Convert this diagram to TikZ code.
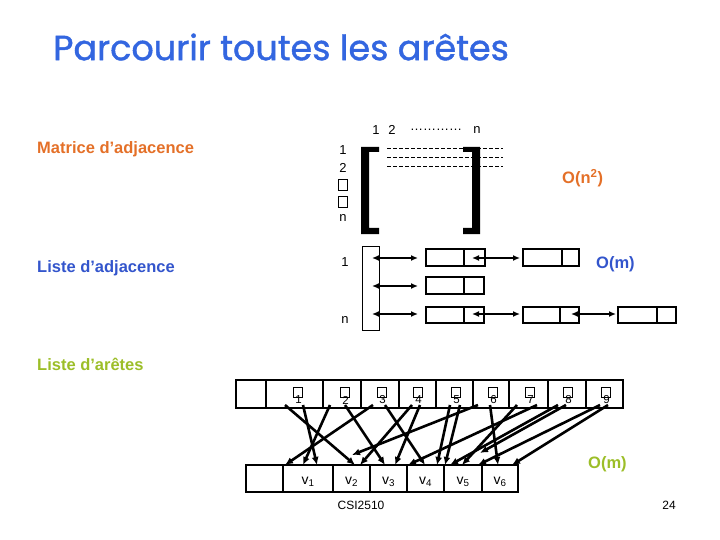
\documentclass[tikz,border=0pt]{standalone}
\usepackage{fontspec}
\setmainfont{Liberation Sans}
\newfontfamily\titlefont[FakeBold=1.2]{Poppins}
\usetikzlibrary{arrows.meta}
\definecolor{ttlblue}{RGB}{51,102,224}
\definecolor{orng}{RGB}{228,112,40}
\definecolor{lblue}{RGB}{51,85,204}
\definecolor{lgreen}{RGB}{156,190,40}
\begin{document}
\begin{tikzpicture}[x=1pt,y=-1pt,
  lbl/.style={font=\bfseries\fontsize{16.5}{18}\selectfont, anchor=west, inner sep=0},
  num/.style={font=\fontsize{13}{14}\selectfont, inner sep=0},
  cell/.style={draw, line width=2pt, inner sep=0, outer sep=0},
  arrbox/.style={draw, line width=0.8pt, inner sep=0, outer sep=0},
  dbl/.style={line width=1.3pt, {Latex[length=7pt,width=6pt]}-{Latex[length=7pt,width=6pt]}},
  ed/.style={line width=2.6pt, -{Latex[length=8pt,width=7pt]}},
  tinybox/.style={draw, line width=0.7pt, minimum width=9.5pt, minimum height=10.5pt, inner sep=0},
  dig/.style={font=\fontsize{11.5}{11.5}\selectfont, inner sep=0},
  vlab/.style={font=\fontsize{14}{14}\selectfont, inner sep=0},
  bar/.style={fill=black}
]
\useasboundingbox (0,0) rectangle (720,540);

% title
\node[anchor=west, text=ttlblue, font=\titlefont\fontsize{35}{38}\selectfont, inner sep=0] (title) at (53,47) {Parcourir toutes les arêtes};

% section labels
\node[lbl, text=orng] (mat) at (37,149) {Matrice d’adjacence};
\node[lbl, text=lblue] (ladj) at (37,268) {Liste d’adjacence};
\node[lbl, text=lgreen] (lar) at (37,364) {Liste d’arêtes};

% ---------- matrix ----------
\node[num] (c1) at (376,130) {1};
\node[num] (c2) at (392,130) {2};
\node[num] (cd) at (436,130) {…………};
\node[num] (cn) at (477,130) {n};
\node[num] (r1) at (343,150) {1};
\node[num] (r2) at (343,168) {2};
\node[tinybox] (rb1) at (343,185) {};
\node[tinybox] (rb2) at (343,202) {};
\node[num] (rn) at (343,218) {n};

\foreach \y in {148,157,166}
  \draw[line width=0.8pt, dash pattern=on 4pt off 2pt] (387,\y) -- (503,\y);

\fill[bar] (361,147) -- (379,147) -- (379,152) -- (369,152) -- (369,228) -- (379,228) -- (379,234) -- (361,234) -- cycle;
\fill[bar] (480,147) -- (463,147) -- (463,152) -- (472,152) -- (472,228) -- (463,228) -- (463,234) -- (480,234) -- cycle;

\node[lbl, text=orng] (onn) at (562,178) {O(n\textsuperscript{2})};

% ---------- adjacency list ----------
\node[arrbox, minimum width=17pt, minimum height=84pt] (arr) at (370.5,288) {};
\node[num] (a1) at (345,262) {1};
\node[num] (an) at (345,320) {n};

% row 1
\node[cell, minimum width=38pt, minimum height=17pt] (l11a) at (445,257.5) {};
\node[cell, minimum width=21pt, minimum height=17pt] (l11b) at (474.5,257.5) {};
\node[cell, minimum width=39pt, minimum height=17pt] (l12a) at (542.5,257.5) {};
\node[cell, minimum width=17pt, minimum height=17pt] (l12b) at (570.5,257.5) {};
% row 2
\node[cell, minimum width=38pt, minimum height=17pt] (l21a) at (445,285.5) {};
\node[cell, minimum width=20pt, minimum height=17pt] (l21b) at (474,285.5) {};
% row 3
\node[cell, minimum width=38pt, minimum height=16pt] (l31a) at (445,315) {};
\node[cell, minimum width=20pt, minimum height=16pt] (l31b) at (474,315) {};
\node[cell, minimum width=37pt, minimum height=16pt] (l32a) at (541.5,315) {};
\node[cell, minimum width=19pt, minimum height=16pt] (l32b) at (569.5,315) {};
\node[cell, minimum width=39pt, minimum height=16pt] (l33a) at (637.5,315) {};
\node[cell, minimum width=19pt, minimum height=16pt] (l33b) at (666.5,315) {};

\coordinate (p1s) at (372,258); \coordinate (p1e) at (418,258);
\coordinate (p2s) at (472,258); \coordinate (p2e) at (520,258);
\coordinate (p3s) at (372,286); \coordinate (p3e) at (418,286);
\coordinate (p4s) at (372,314); \coordinate (p4e) at (418,314);
\coordinate (p5s) at (472,314); \coordinate (p5e) at (520,314);
\coordinate (p6s) at (571,314); \coordinate (p6e) at (616,314);
\foreach \k in {1,...,6} \draw[dbl] (p\k s) -- (p\k e);

\node[lbl, text=lblue] (om1) at (596,264) {O(m)};

% ---------- edge list ----------
\foreach \a/\b [count=\i from 0] in {236/266,266/323,323/361,361/399,399/436,436/473,473/509,509/548,548/586,586/623}
  \node[cell, minimum width={\b-\a}, minimum height=28pt] (e\i) at ({(\a+\b)/2},394) {};
\foreach \a/\b [count=\i from 0] in {246/283,283/333,333/370,370/407,407/444,444/482,482/518}
  \node[cell, minimum width={\b-\a}, minimum height=27pt] (w\i) at ({(\a+\b)/2},478.5) {};
\foreach \i in {1,...,6}
  \node[vlab] (vl\i) at ([yshift=-3.5pt]w\i.center) {v\textsubscript{\i}};

\foreach \sx/\tx/\ty [count=\k] in {
  285/355/465, 303/317/465,
  330/303/465, 345/385/465,
  373/285/465, 385/425/465,
  412/360/465, 420/395/465,
  450/437/465, 460/445/465,
  478/352/455, 490/498/465,
  517/462/465, 537/408/465,
  558/450/465, 566/480/453,
  600/478/465, 608/512/465} {
  \coordinate (s\k) at (\sx,405);
  \coordinate (t\k) at (\tx,\ty);
  \draw[ed] (s\k) -- (t\k);
}

\foreach \x [count=\i] in {298,345,382,418,456,493,530,568,606} {
  \node[tinybox] (q\i) at (\x,392.5) {};
  \node[dig] (d\i) at (\x+0.5,400) {\i};
}

\node[lbl, text=lgreen] (om2) at (588,464) {O(m)};

% footer
\node[font=\fontsize{12}{12}\selectfont, inner sep=0] (foot) at (361,505) {CSI2510};
\node[font=\fontsize{12}{12}\selectfont, inner sep=0] (page) at (669,505) {24};
\end{tikzpicture}
\end{document}
